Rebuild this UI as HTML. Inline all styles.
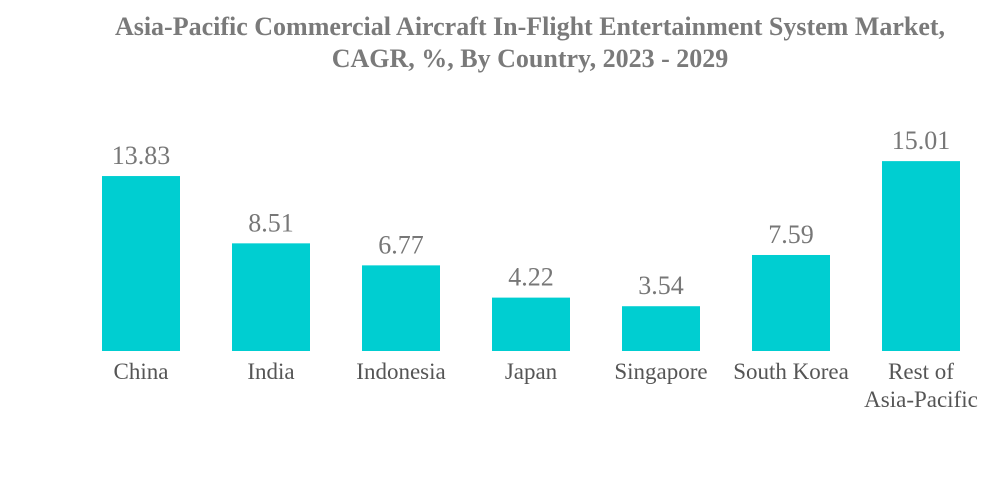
<!DOCTYPE html>
<html><head><meta charset="utf-8">
<style>
body{margin:0;background:#fff;width:1000px;height:483px;overflow:hidden;font-family:"Liberation Serif",serif}
#title{position:absolute;left:60px;width:940px;top:11px;text-align:center;font-weight:bold;font-size:26px;line-height:32px;color:#7a7a7a}
</style></head><body>
<div id="title">Asia-Pacific Commercial Aircraft In-Flight Entertainment System Market,<br>CAGR, %, By Country, 2023 - 2029</div>
<svg id="chart" width="1000" height="483" style="position:absolute;left:0;top:0"></svg>
<script>
const categories=["China","India","Indonesia","Japan","Singapore","South Korea","Rest of|Asia-Pacific"];
const values=[13.83,8.51,6.77,4.22,3.54,7.59,15.01];
const labels=["13.83","8.51","6.77","4.22","3.54","7.59","15.01"];
const svg=document.getElementById('chart');
const NS='http://www.w3.org/2000/svg';
const baseY=351, scale=12.65, x0=102, step=130, bw=78;
function xPos(i){return x0+i*step;}
function yPos(v){return baseY-v*scale;}
categories.forEach((c,i)=>{
  const r=document.createElementNS(NS,'rect');
  
  
  r.setAttribute('x',xPos(i));r.setAttribute('y',yPos(values[i]));
  r.setAttribute('width',bw);r.setAttribute('height',baseY-yPos(values[i]));
  r.setAttribute('fill','#00ced1');svg.appendChild(r);
  const t=document.createElementNS(NS,'text');
  
  
  t.setAttribute('x',xPos(i)+bw/2);t.setAttribute('y',yPos(values[i])-12);
  t.setAttribute('text-anchor','middle');t.setAttribute('font-size','26');
  t.setAttribute('fill','#777');t.setAttribute('font-family','Liberation Serif, serif');
  t.textContent=labels[i];svg.appendChild(t);
  c.split('|').forEach((line,j)=>{
    const l=document.createElementNS(NS,'text');
    
    
    l.setAttribute('x',xPos(i)+bw/2);l.setAttribute('y',379+j*28);
    l.setAttribute('text-anchor','middle');l.setAttribute('font-size','23');
    l.setAttribute('fill','#555');l.setAttribute('font-family','Liberation Serif, serif');
    l.textContent=line;svg.appendChild(l);
  });
});
</script>
</body></html>
